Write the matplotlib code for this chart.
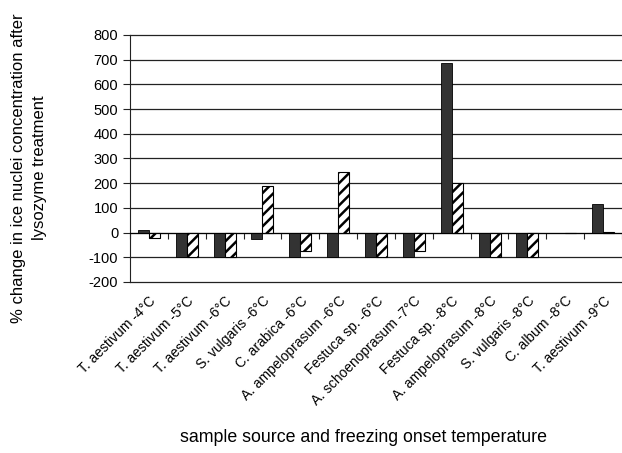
import numpy as np
import matplotlib
matplotlib.use("Agg")
import matplotlib.pyplot as plt

plt.rcParams['font.family'] = ['Liberation Sans', 'DejaVu Sans']
plt.rcParams['hatch.linewidth'] = 1.8
plt.rcParams['axes.unicode_minus'] = False

samples = ["T. aestivum -4°C", "T. aestivum -5°C", "T. aestivum -6°C", "S. vulgaris -6°C",
           "C. arabica -6°C", "A. ampeloprasum -6°C", "Festuca sp. -6°C",
           "A. schoenoprasum -7°C", "Festuca sp. -8°C", "A. ampeloprasum -8°C",
           "S. vulgaris -8°C", "C. album -8°C", "T. aestivum -9°C"]
solid_vals = [10, -100, -100, -25, -100, -100, -100, -100, 686, -100, -100, 0, 114]
hatched_vals = [-20, -100, -100, 188, -73, 246, -100, -73, 201, -100, -100, 0, 3]
yticks = list(range(-200, 801, 100))

x = np.arange(len(samples))
w = 0.29

fig = plt.figure(figsize=(6.22, 4.53), dpi=100)
ax = fig.add_axes([130/622, 1-282/453, 492/622, 247/453])

# horizontal gridlines
for yv in yticks:
    ax.axhline(yv, color='#222222', linewidth=0.9, zorder=1, clip_on=False)

ax.bar(x - w/2, solid_vals, w, color='#333333', edgecolor='black', linewidth=0.6, zorder=3)
ax.bar(x + w/2, hatched_vals, w, color='white', edgecolor='black', hatch='///', linewidth=0.8, zorder=3)

ax.set_ylim(-200, 800)
ax.set_yticks(yticks)
ax.set_xlim(-0.5, len(samples) - 0.5)

ax.spines['top'].set_visible(False)
ax.spines['right'].set_visible(False)
ax.spines['bottom'].set_position(('data', 0))
ax.spines['bottom'].set_zorder(4)
ax.spines['left'].set_color('#222222')

# ticks on the zero line between categories, labels below the plot
ax.set_xticks(np.arange(-0.5, len(samples)), labels=[])
ax.set_xticks(x, labels=samples, minor=True)
ax.tick_params(axis='x', which='major', direction='out', length=4, color='#222222')
ax.tick_params(axis='x', which='minor', length=0, pad=44, labelsize=10)
for lab in ax.get_xticklabels(minor=True):
    lab.set_rotation(45)
    lab.set_ha('right')
    lab.set_rotation_mode('anchor')
ax.tick_params(axis='y', direction='out', length=5, labelsize=10.5, color='#222222')

fig.text(29/622, 1-168/453, "% change in ice nuclei concentration after\nlysozyme treatment",
         rotation=90, ha='center', va='center', fontsize=12, multialignment='center',
         linespacing=1.45)
fig.text(363/622, 1-437/453, "sample source and freezing onset temperature",
         ha='center', va='center', fontsize=12.8)

fig.savefig("out.png", dpi=100)
